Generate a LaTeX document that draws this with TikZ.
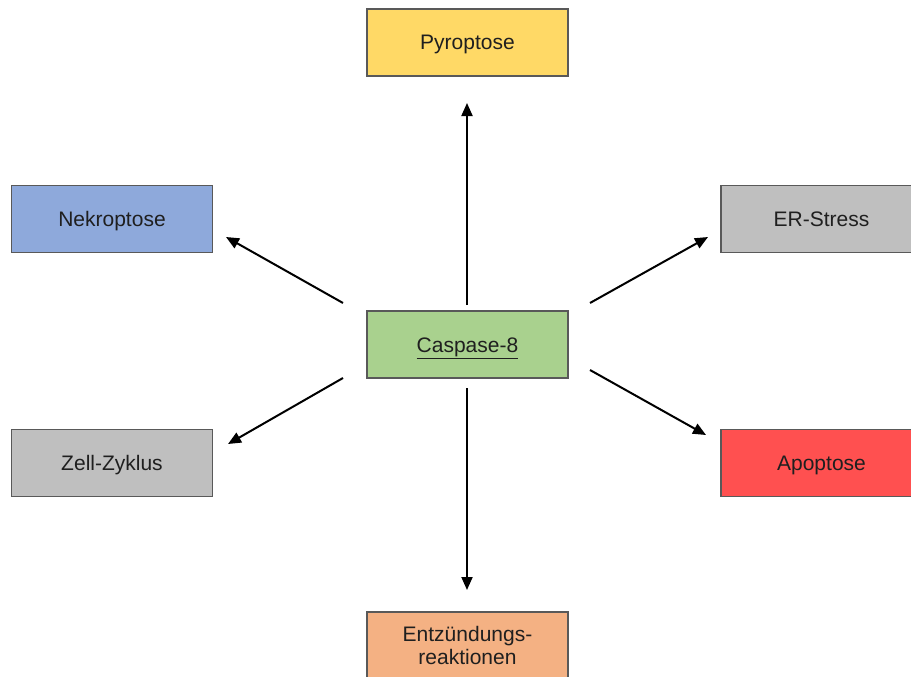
\documentclass[tikz,border=0pt]{standalone}
\usepackage{fontspec}
\setmainfont{Liberation Sans}
\usetikzlibrary{arrows.meta}
\definecolor{cyel}{HTML}{FFD966}
\definecolor{cblue}{HTML}{8EA9DB}
\definecolor{cgray}{HTML}{BFBFBF}
\definecolor{cgreen}{HTML}{A9D18E}
\definecolor{cred}{HTML}{FF5050}
\definecolor{corange}{HTML}{F4B183}
\definecolor{cborder}{HTML}{595959}
\begin{document}
\begin{tikzpicture}[x=1pt,y=-1pt,
  box/.style={draw=cborder,line width=1.2pt,minimum width=201pt,minimum height=67pt,inner sep=0pt,
    font=\fontsize{21}{25}\selectfont,text=black!88,align=center},
  one/.style={text height=15pt,text depth=0pt},
  arr/.style={line width=2pt,-{Triangle[length=13pt,width=11pt]}}]
\useasboundingbox (0,0) rectangle (911,677);
\begin{scope}
\clip (0,0) rectangle (911,677);
\node[box,one,fill=cyel] (pyro) at (467.5,42.5) {Pyroptose};
\node[box,one,fill=cblue] (nekro) at (112,219) {Nekroptose};
\node[box,one,fill=cgray] (er) at (821.5,219) {ER-Stress};
\node[box,one,fill=cgreen] (casp) at (467.5,344.5) {\underline{Caspase-8}};
\node[box,one,fill=cgray] (zell) at (112,463) {Zell-Zyklus};
\node[box,one,fill=cred] (apo) at (821.5,463) {Apoptose};
\node[box,fill=corange] (entz) at (467.5,645.5) {Entzündungs-\\[-2pt]reaktionen};
\end{scope}
\coordinate (upS) at (467,305);   \coordinate (upE) at (467,103);
\coordinate (dnS) at (467,388);   \coordinate (dnE) at (467,590);
\coordinate (nwS) at (343,303);   \coordinate (nwE) at (226,237);
\coordinate (neS) at (590,303);   \coordinate (neE) at (708,237);
\coordinate (swS) at (343,378);   \coordinate (swE) at (228,444);
\coordinate (seS) at (590,370);   \coordinate (seE) at (706,435);
\draw[arr] (upS) -- (upE);
\draw[arr] (dnS) -- (dnE);
\draw[arr] (nwS) -- (nwE);
\draw[arr] (neS) -- (neE);
\draw[arr] (swS) -- (swE);
\draw[arr] (seS) -- (seE);
\end{tikzpicture}
\end{document}
